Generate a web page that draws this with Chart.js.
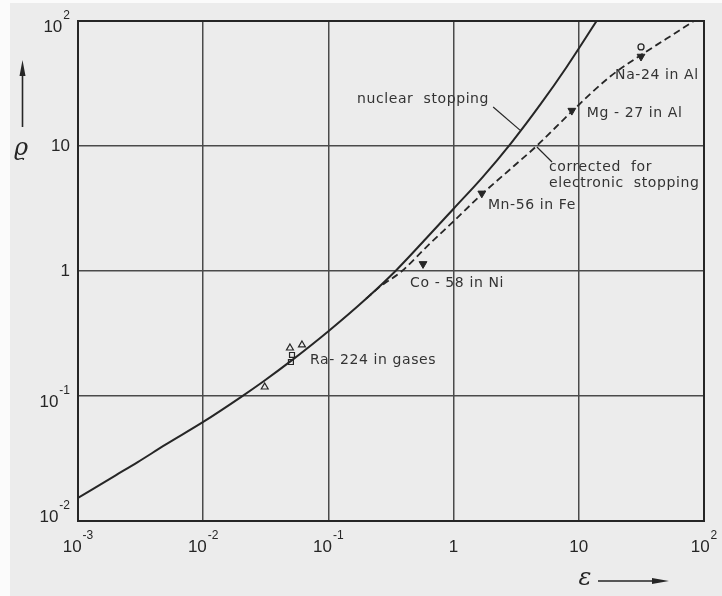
<!DOCTYPE html>
<html>
<head>
<meta charset="utf-8">
<title>Reduced range vs. reduced energy</title>
<script src="https://cdn.jsdelivr.net/npm/chart.js@4.4.1/dist/chart.umd.min.js"></script>
<style>
    html, body { margin: 0; padding: 0; background: #fff; }
    #wrap { width: 722px; height: 596px; }
</style>
</head>
<body>
<div id="wrap"><canvas id="rangeChart" width="722" height="596"></canvas></div>
<script>
// Decade ticks for both log axes
const EPS_TICKS = [1e-3, 1e-2, 1e-1, 1, 10, 100];
const RHO_TICKS = [1e-2, 1e-1, 1, 10, 100];

// Nuclear stopping only (solid curve)
const NUC_EPS = [0.001, 0.002, 0.003, 0.005, 0.01, 0.02, 0.03, 0.05, 0.1, 0.2, 0.35, 0.6, 1, 1.7, 2.87, 5, 8, 15];
const NUC_RHO = [0.0153, 0.0232, 0.0296, 0.0408, 0.062, 0.098, 0.13, 0.19, 0.33, 0.60, 1.02, 1.81, 3.15, 5.61, 10.5, 21.9, 42.9, 113];

// Corrected for electronic stopping (dashed curve)
const COR_EPS = [0.2, 0.25, 0.387, 0.6, 1, 1.72, 3, 4.6, 8.8, 17.7, 31.4, 50, 83];
const COR_RHO = [0.60, 0.73, 1.0, 1.54, 2.5, 4.2, 6.85, 10, 18.9, 35.8, 53.5, 72, 100];

// Measured ranges
const DOWN_EPS = [0.57, 1.68, 8.8, 31.4];      // Co-58, Mn-56, Mg-27, Na-24
const DOWN_RHO = [1.14, 4.18, 19.2, 52];
const CIRCLE_EPS = [31.4];                     // Na-24
const CIRCLE_RHO = [62];
const RA_TRI_EPS = [0.031, 0.0493, 0.0615];    // Ra-224 in gases
const RA_TRI_RHO = [0.118, 0.242, 0.256];
const RA_SQ_EPS = [0.0512, 0.0502];
const RA_SQ_RHO = [0.213, 0.187];

// Curve labels, anchored in (eps, rho) at the left end of the text
const NOTE_TEXT = ['nuclear  stopping', 'corrected  for', 'electronic  stopping', 'Mn-56 in Fe',
                   'Na-24 in Al', 'Mg - 27 in Al', 'Co - 58 in Ni', 'Ra- 224 in gases'];
const NOTE_EPS = [0.169, 5.78, 5.78, 1.88, 19.5, 11.6, 0.449, 0.0713];
const NOTE_RHO = [23.8, 6.8, 5.06, 3.37, 37, 18.4, 0.80, 0.194];

// Leader lines from the labels to the curves
const LEAD_NUC_EPS = [2.07, 3.39];
const LEAD_NUC_RHO = [20.5, 13.4];
const LEAD_COR_EPS = [4.63, 6.11];
const LEAD_COR_RHO = [9.82, 7.45];

const INK = '#262626';
const pts = (xs, ys) => xs.map((x, i) => ({ x: x, y: ys[i] }));

const background = {
    id: 'background',
    beforeDraw(chart) {
        const ctx = chart.ctx;
        ctx.save();
        ctx.fillStyle = '#fbfbfb';
        ctx.fillRect(0, 0, chart.width, chart.height);
        ctx.fillStyle = '#ececec';
        ctx.fillRect(10, 3, chart.width - 10, chart.height - 3);
        ctx.restore();
    }
};

function powLabel(v) {
    const e = Math.round(Math.log10(v));
    if (e === 0) return { base: '1', exp: '' };
    if (e === 1) return { base: '10', exp: '' };
    return { base: '10', exp: String(e) };
}

const decorations = {
    id: 'decorations',
    afterDraw(chart) {
        const ctx = chart.ctx;
        const a = chart.chartArea;
        const xs = chart.scales.x, ys = chart.scales.y;
        const baseFont = '17px "Liberation Sans", Arial, sans-serif';
        const expFont = '12px "Liberation Sans", Arial, sans-serif';
        ctx.save();
        ctx.fillStyle = INK;
        ctx.strokeStyle = INK;

        // frame
        ctx.lineWidth = 2;
        ctx.strokeRect(a.left, a.top, a.right - a.left, a.bottom - a.top);

        ctx.textBaseline = 'middle';
        // x tick labels, whole label centred on its gridline
        EPS_TICKS.forEach(v => {
            const l = powLabel(v);
            const px = xs.getPixelForValue(v);
            ctx.font = baseFont;
            const wb = ctx.measureText(l.base).width;
            ctx.font = expFont;
            const we = l.exp ? ctx.measureText(l.exp).width + 1 : 0;
            const x0 = px - (wb + we) / 2;
            ctx.textAlign = 'left';
            ctx.font = baseFont;
            ctx.fillText(l.base, x0, a.bottom + 26);
            if (l.exp) {
                ctx.font = expFont;
                ctx.fillText(l.exp, x0 + wb + 1, a.bottom + 15);
            }
        });

        // y tick labels, right aligned
        RHO_TICKS.forEach(v => {
            const l = powLabel(v);
            const py = ys.getPixelForValue(v);
            const right = a.left - 8;
            ctx.font = expFont;
            const we = l.exp ? ctx.measureText(l.exp).width + 1 : 0;
            ctx.font = baseFont;
            const wb = ctx.measureText(l.base).width;
            const dy = !l.exp ? 0 : (v < 0.05 ? -4 : 6);
            ctx.textAlign = 'left';
            ctx.fillText(l.base, right - we - wb, py + dy);
            if (l.exp) {
                ctx.font = expFont;
                ctx.fillText(l.exp, right - we + 1, py + dy - 11);
            }
        });

        // axis symbols with arrows
        ctx.font = 'italic 24px "DejaVu Serif", serif';
        ctx.textAlign = 'center';
        ctx.fillText('\u03F1', 21, 149);
        ctx.fillText('\u03B5', 585, 579);

        ctx.lineWidth = 1.6;
        ctx.beginPath();
        ctx.moveTo(22.5, 127); ctx.lineTo(22.5, 70);
        ctx.moveTo(598, 581); ctx.lineTo(658, 581);
        ctx.stroke();
        ctx.beginPath();
        ctx.moveTo(22.5, 60); ctx.lineTo(19.5, 76); ctx.lineTo(25.5, 76); ctx.closePath();
        ctx.moveTo(669, 581); ctx.lineTo(652, 578); ctx.lineTo(652, 584); ctx.closePath();
        ctx.fill();

        // curve and isotope labels
        ctx.font = '14px "DejaVu Sans", sans-serif';
        ctx.letterSpacing = '0.6px';
        ctx.textAlign = 'left';
        ctx.fillStyle = '#333333';
        NOTE_TEXT.forEach((t, i) => {
            ctx.fillText(t, xs.getPixelForValue(NOTE_EPS[i]), ys.getPixelForValue(NOTE_RHO[i]));
        });
        ctx.restore();
    }
};

const decadeTicks = list => scale => { scale.ticks = list.map(v => ({ value: v })); };

new Chart(document.getElementById('rangeChart'), {
    type: 'scatter',
    data: {
        datasets: [
            {
                label: 'nuclear stopping',
                data: pts(NUC_EPS, NUC_RHO),
                showLine: true, borderColor: INK, borderWidth: 2,
                pointRadius: 0, cubicInterpolationMode: 'monotone'
            },
            {
                label: 'corrected for electronic stopping',
                data: pts(COR_EPS, COR_RHO),
                showLine: true, borderColor: INK, borderWidth: 1.8, borderDash: [7, 4],
                pointRadius: 0, cubicInterpolationMode: 'monotone'
            },
            {
                label: 'leader nuclear',
                data: pts(LEAD_NUC_EPS, LEAD_NUC_RHO),
                showLine: true, borderColor: INK, borderWidth: 1.2, pointRadius: 0
            },
            {
                label: 'leader corrected',
                data: pts(LEAD_COR_EPS, LEAD_COR_RHO),
                showLine: true, borderColor: INK, borderWidth: 1.2, pointRadius: 0
            },
            {
                label: 'measured',
                data: pts(DOWN_EPS, DOWN_RHO),
                pointStyle: 'triangle', rotation: 180, pointRadius: 4.5,
                backgroundColor: INK, borderColor: INK, borderWidth: 1
            },
            {
                label: 'Na-24 circle',
                data: pts(CIRCLE_EPS, CIRCLE_RHO),
                pointStyle: 'circle', pointRadius: 3,
                backgroundColor: 'rgba(0,0,0,0)', borderColor: INK, borderWidth: 1.3
            },
            {
                label: 'Ra-224 triangles',
                data: pts(RA_TRI_EPS, RA_TRI_RHO),
                pointStyle: 'triangle', pointRadius: 4,
                backgroundColor: 'rgba(0,0,0,0)', borderColor: INK, borderWidth: 1.2
            },
            {
                label: 'Ra-224 squares',
                data: pts(RA_SQ_EPS, RA_SQ_RHO),
                pointStyle: 'rect', pointRadius: 3.5,
                backgroundColor: 'rgba(0,0,0,0)', borderColor: INK, borderWidth: 1.2
            }
        ]
    },
    options: {
        responsive: false,
        devicePixelRatio: 1,
        animation: false,
        layout: { padding: { left: 0, top: 21, right: 18, bottom: 0 } },
        scales: {
            x: {
                type: 'logarithmic', min: 1e-3, max: 100,
                afterBuildTicks: decadeTicks(EPS_TICKS),
                afterFit: s => { s.height = 75; },
                ticks: { display: false },
                grid: { color: '#4a4a4a', lineWidth: 1.5, drawTicks: false },
                border: { color: INK, width: 2 }
            },
            y: {
                type: 'logarithmic', min: 1e-2, max: 100,
                afterBuildTicks: decadeTicks(RHO_TICKS),
                afterFit: s => { s.width = 78; },
                ticks: { display: false },
                grid: { color: '#4a4a4a', lineWidth: 1.5, drawTicks: false },
                border: { color: INK, width: 2 }
            }
        },
        plugins: {
            legend: { display: false },
            tooltip: { enabled: false }
        }
    },
    plugins: [background, decorations]
});
</script>
</body>
</html>
